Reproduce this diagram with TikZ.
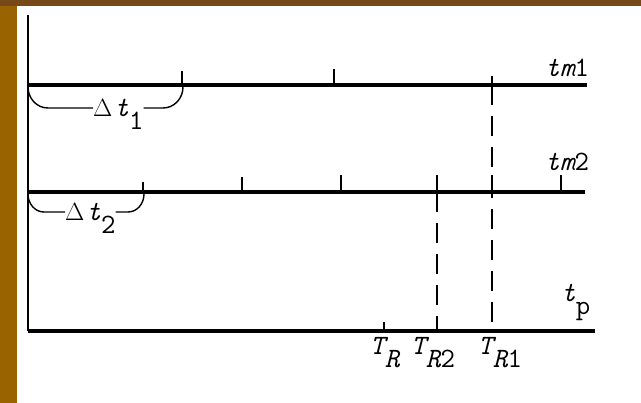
\documentclass[tikz,border=0pt]{standalone}
\usepackage{fontspec}
\definecolor{stripcol}{RGB}{153,99,0}
\definecolor{bandcol}{RGB}{118,74,24}
\newcommand{\lowr}[1]{\raisebox{-0.45em}{#1}}
\tikzset{
  axisline/.style={line width=3.5pt},
  tickmark/.style={line width=1.8pt},
  guide/.style={line width=1.8pt, dash pattern=on 20pt off 11pt},
  bracel/.style={line width=1.4pt},
  lbl/.style={inner sep=0pt, anchor=base west, font=\ttfamily\fontsize{28}{31}\selectfont},
}
\begin{document}
\begin{tikzpicture}[x=1pt, y=-1pt]
    % фон
    \fill[white] (0,0) rectangle (641,403);
    \fill[stripcol] (0,0) rectangle (17,403);
    \fill[bandcol] (0,0) rectangle (641,6);
    \useasboundingbox (0,0) rectangle (641,403);

    % оси
    \coordinate (top) at (28,15);
    \coordinate (o1) at (28,85);
    \coordinate (e1) at (587,85);
    \coordinate (o2) at (28,192);
    \coordinate (e2) at (585,192);
    \coordinate (o3) at (28,331);
    \coordinate (e3) at (595,331);
    \draw[line width=2.4pt] (top) -- (o3);
    \draw[axisline] (o1) -- (e1);
    \draw[axisline] (o2) -- (e2);
    \draw[axisline] (o3) -- (e3);

    % метки tm1
    \foreach \x/\h in {182/14, 334/16, 492/9}
        \draw[tickmark] (\x,85) -- (\x,85-\h);
    % метки tm2
    \foreach \x/\h in {143/10, 242/15, 341/17, 437/17, 492/17, 561/17}
        \draw[tickmark] (\x,192) -- (\x,192-\h);
    % метка T_R
    \draw[tickmark] (384,331) -- (384,322);

    % пунктир
    \coordinate (g1) at (492,85);
    \coordinate (g1b) at (492,331);
    \coordinate (g2) at (437,192);
    \coordinate (g2b) at (437,331);
    \draw[guide] (g1) -- (g1b);
    \draw[guide] (g2) -- (g2b);

    % подписи
    \node[lbl] (tm1) at (545,77) {{\itshape tm}1};
    \node[lbl] (tm2) at (545,171) {{\itshape tm}2};
    \node[lbl] (tp) at (561,302) {{\itshape t}\lowr{p}};
    \node[lbl] (tr) at (370,355) {{\itshape T}\lowr{\itshape R}};
    \node[lbl] (tr2) at (411,355) {{\itshape T}\lowr{{\itshape R}2}};
    \node[lbl] (tr1) at (478,355) {{\itshape T}\lowr{{\itshape R}1}};
    \node[lbl] (dt1) at (93,117) {$\Delta$\kern2pt{\itshape t}\lowr{1}};
    \node[lbl] (dt2) at (65,221) {$\Delta$\kern2pt{\itshape t}\lowr{2}};

    % скобки
    \coordinate (b1l) at (28,87);
    \coordinate (b1m) at (48,108);
    \coordinate (b1n) at (163,108);
    \coordinate (b1r) at (183,87);
    \draw[bracel] (b1l) to[out=-90, in=180] (b1m) -- (b1m -| dt1.west);
    \draw[bracel] (b1n -| dt1.east) -- (b1n) to[out=0, in=-90] (b1r);
    \coordinate (b2l) at (28,194);
    \coordinate (b2m) at (44,212);
    \coordinate (b2n) at (128,212);
    \coordinate (b2r) at (144,194);
    \draw[bracel] (b2l) to[out=-90, in=180] (b2m) -- (b2m -| dt2.west);
    \draw[bracel] (b2n -| dt2.east) -- (b2n) to[out=0, in=-90] (b2r);
\end{tikzpicture}
\end{document}
